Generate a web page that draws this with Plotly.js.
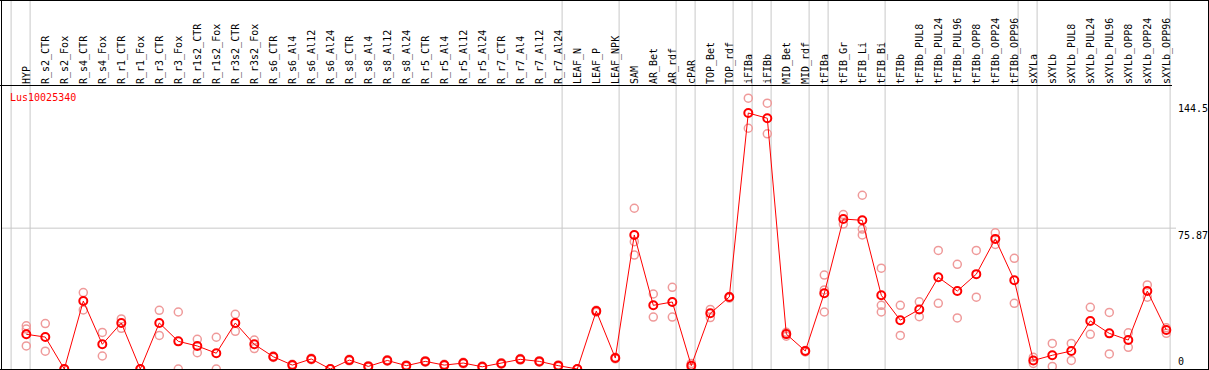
<!DOCTYPE html>
<html><head><meta charset="utf-8">
<script src="https://cdn.plot.ly/plotly-3.0.1.min.js"></script>
<style>html,body{margin:0;padding:0;background:#fff;}#chart{width:1209px;height:370px;}</style>
</head><body><div id="chart"></div>
<script>
const geneName = 'Lus10025340';
const categories = ['HYP','R_s2_CTR','R_s2_Fox','R_s4_CTR','R_s4_Fox','R_r1_CTR','R_r1_Fox','R_r3_CTR','R_r3_Fox',
  'R_r1s2_CTR','R_r1s2_Fox','R_r3s2_CTR','R_r3s2_Fox','R_s6_CTR','R_s6_Al4','R_s6_Al12','R_s6_Al24',
  'R_s8_CTR','R_s8_Al4','R_s8_Al12','R_s8_Al24','R_r5_CTR','R_r5_Al4','R_r5_Al12','R_r5_Al24',
  'R_r7_CTR','R_r7_Al4','R_r7_Al12','R_r7_Al24','LEAF_N','LEAF_P','LEAF_NPK','SAM','AR_Bet','AR_rdf',
  'cPAR','TOP_Bet','TOP_rdf','iFIBa','iFIBb','MID_Bet','MID_rdf','tFIBa','tFIB_Gr','tFIB_Li','tFIB_Bi',
  'tFIBb','tFIBb_PUL8','tFIBb_PUL24','tFIBb_PUL96','tFIBb_OPP8','tFIBb_OPP24','tFIBb_OPP96',
  'sXYLa','sXYLb','sXYLb_PUL8','sXYLb_PUL24','sXYLb_PUL96','sXYLb_OPP8','sXYLb_OPP24','sXYLb_OPP96'];
const meanValues = [18.7,17.2,0,36.6,13.3,24.8,0,24.8,14.9,12.4,8.5,24.8,13.3,6.6,2.1,5.4,0,
  4.8,1.4,4.6,1.8,4.1,2.1,3.2,1.2,3.0,5.2,4.1,1.8,0,31.2,5.9,72.2,34.3,36.1,
  1.8,30.0,38.8,137.9,135.1,18.8,9.7,40.8,80.8,80.1,39.7,
  26.3,32.1,49.4,42.0,51.1,70.1,47.8,
  4.6,7.4,9.7,25.9,19.2,15.6,42.0,21.0];
const rep1 = [23.3,24.5,0,41.2,19.7,27.0,0,31.6,30.7,16.0,17.1,29.5,15.6,7.0,2.5,5.8,0,
  5.2,1.8,5.0,2.2,4.5,2.5,3.6,1.6,3.4,5.6,4.5,2.2,0,31.6,6.3,86.6,40.4,44.0,
  3.0,32.1,39.0,145.9,143.2,19.8,10.0,50.6,83.2,93.6,54.3,
  34.3,36.2,63.9,56.4,63.9,73.4,59.6,
  6.3,13.8,13.8,33.2,30.5,19.5,45.3,22.2];
const rep2 = [21.5,9.6,0,31.8,7.0,21.9,0,18.1,0,8.8,0,20.3,11.0,6.2,1.7,5.0,0,
  4.4,1.0,4.2,1.4,3.7,1.7,2.8,0.8,2.6,4.8,3.7,1.4,0,30.6,5.5,68.6,28.0,28.0,
  0.6,27.7,38.2,129.7,126.7,17.7,9.2,42.6,78.1,75.4,34.3,
  18.1,28.2,35.4,27.5,38.7,67.1,35.4,
  3.0,1.4,4.6,18.7,8.1,11.7,38.7,19.2];
const rep3 = [12.4,null,null,null,null,null,null,null,null,null,null,null,null,null,null,null,null,
  null,null,null,null,null,null,null,null,null,null,null,null,null,null,null,61.4,null,null,
  null,null,null,null,null,null,null,30.7,null,72.2,30.7,
  null,null,null,null,null,null,null,
  null,null,null,null,null,null,null,null];
const groupEnds = [-1,0,28,31,34,35,37,38,39,41,42,45,52,53,60];
const yTickValues = [0,75.87,144.5];
const yTickLabels = ['0','75.87','144.5'];
const yGridValues = [75.87];

const FONT = 'DejaVu Sans Mono, monospace';
const PXL = 1, PXR = 1172, PYT = 85, PYB = 369;
const px2paperX = p => (p - PXL) / (PXR - PXL);
const px2paperY = p => (PYB - p) / (PYB - PYT);

const idx = categories.map((_, i) => i);
const repX = [], repY = [];
[rep1, rep2, rep3].forEach(r => r.forEach((v, i) => { if (v !== null) { repX.push(i); repY.push(v); } }));

const traces = [
  {x: repX, y: repY, type: 'scatter', mode: 'markers', hoverinfo: 'y',
   marker: {symbol: 'circle-open', size: 8, color: '#ef9a9a', line: {width: 1.5}}},
  {x: idx, y: meanValues, type: 'scatter', mode: 'lines+markers', hoverinfo: 'y',
   line: {color: '#ff0000', width: 1},
   marker: {symbol: 'circle-open', size: 8, color: '#ff0000', line: {width: 2}}}
];

const shapes = [];
groupEnds.forEach(b => shapes.push({type: 'line', layer: 'below', xref: 'x', yref: 'paper',
  x0: b + 0.2, x1: b + 0.2, y0: 0, y1: px2paperY(0), line: {color: '#c8c8c8', width: 1}}));
yGridValues.forEach(v => shapes.push({type: 'line', layer: 'below', xref: 'paper', yref: 'y',
  x0: 0, x1: px2paperX(1176), y0: v, y1: v, line: {color: '#c8c8c8', width: 1}}));
const black = {color: '#000000', width: 1};
shapes.push({type: 'line', xref: 'paper', yref: 'paper', x0: px2paperX(0), x1: 1, y0: px2paperY(85.5), y1: px2paperY(85.5), line: black});
shapes.push({type: 'line', xref: 'paper', yref: 'paper', x0: px2paperX(0), x1: px2paperX(1209), y0: px2paperY(369.5), y1: px2paperY(369.5), line: black});
shapes.push({type: 'line', xref: 'paper', yref: 'paper', x0: px2paperX(0), x1: px2paperX(1209), y0: px2paperY(0.5), y1: px2paperY(0.5), line: black});
shapes.push({type: 'line', xref: 'paper', yref: 'paper', x0: px2paperX(1.5), x1: px2paperX(1.5), y0: px2paperY(0), y1: px2paperY(370), line: black});
shapes.push({type: 'line', xref: 'paper', yref: 'paper', x0: px2paperX(1208.5), x1: px2paperX(1208.5), y0: px2paperY(0), y1: px2paperY(370), line: black});

const annotations = [{text: geneName, xref: 'paper', yref: 'paper', x: px2paperX(8), y: px2paperY(90),
  xanchor: 'left', yanchor: 'top', showarrow: false, font: {family: FONT, size: 10, color: '#ff0000'}}];
yTickValues.forEach((v, k) => annotations.push({text: yTickLabels[k], xref: 'paper', yref: 'y',
  x: px2paperX(1176), y: v, xanchor: 'left', yanchor: v === 0 ? 'bottom' : 'top', showarrow: false,
  font: {family: FONT, size: 10, color: '#000000'}}));

const layout = {
  width: 1209, height: 370,
  margin: {l: PXL, r: 1209 - PXR, t: PYT, b: 370 - PYB, pad: 0},
  paper_bgcolor: '#ffffff', plot_bgcolor: '#ffffff',
  showlegend: false,
  xaxis: {type: 'linear', range: [(PXL - 26.3) / 19, (PXR - 26.3) / 19], side: 'top',
    tickmode: 'array', tickvals: idx, ticktext: categories, tickangle: -90, ticks: '',
    showgrid: false, zeroline: false, showline: false, automargin: false,
    tickfont: {family: FONT, size: 10, color: '#000000'}},
  yaxis: {range: [0, 153], showgrid: false, zeroline: false, showline: false,
    showticklabels: false, ticks: '', automargin: false},
  shapes: shapes,
  annotations: annotations
};
Plotly.newPlot('chart', traces, layout, {staticPlot: true, displayModeBar: false});
</script>
</body></html>
